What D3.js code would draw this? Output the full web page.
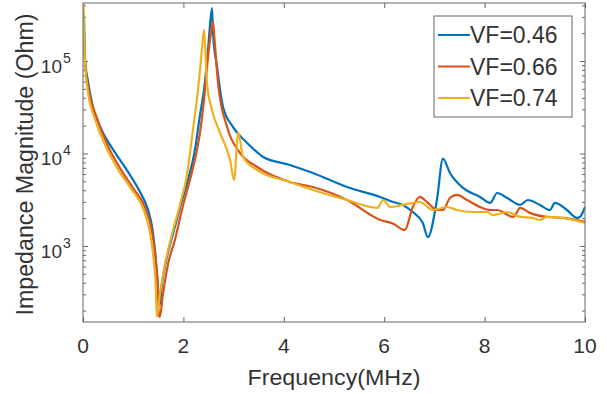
<!DOCTYPE html>
<html>
<head>
<meta charset="utf-8">
<script src="https://cdn.jsdelivr.net/npm/d3@7"></script>
<style>
  body { margin: 0; background: #fff; }
  text { font-family: Arial, "Liberation Sans", sans-serif; fill: #333; }
</style>
</head>
<body>
<svg id="mainsvg"></svg>
<script>
// frequency (MHz) / impedance magnitude (Ohm)
const f046 = [0.02,0.04,0.10,0.20,0.36,0.64,0.90,1.14,1.29,1.39,1.45,1.49,1.53,1.57,1.65,1.77,1.93,2.09,2.23,2.33,2.41,2.49,2.53,2.57,2.59,2.67,2.79,2.99,3.27,3.59,4.12,4.58,5.26,5.92,6.18,6.37,6.57,6.77,6.87,7.05,7.17,7.31,7.57,7.91,8.11,8.25,8.45,8.71,8.86,9.10,9.30,9.40,9.64,9.84,9.90,10.0];
const z046 = [314000,105000,60000,31500,18500,10200,6300,3800,2500,1450,720,378,230,378,672,1220,2580,5170,10900,26100,48600,131600,245000,373900,200800,86100,31800,19300,13000,9170,7520,6150,4340,3390,2990,2780,2330,1770,1250,3140,8800,6150,4240,3390,2920,3740,3300,2780,3140,2780,2450,2920,2450,2010,2060,2640];

const f066 = [0.01,0.02,0.04,0.12,0.28,0.48,0.74,1.00,1.24,1.37,1.45,1.49,1.51,1.53,1.59,1.69,1.83,1.97,2.13,2.25,2.33,2.41,2.47,2.53,2.59,2.61,2.69,2.87,3.13,3.47,4.12,4.58,5.26,5.92,6.18,6.41,6.57,6.71,6.85,7.05,7.17,7.31,7.45,7.65,7.91,8.11,8.25,8.57,8.71,8.90,9.24,9.56,9.84,10.0];
const z066 = [330000,168700,100000,47000,24000,12600,6900,4200,2560,1460,700,360,180,171,295,624,1160,2450,5170,9640,16700,37800,86100,168700,264000,200800,57800,19300,10100,7140,4920,4340,3140,1910,1740,1490,2640,3390,2990,2450,2450,3300,3560,3140,2640,2450,2450,2060,2580,2280,2060,2010,1910,1820];

const f074 = [0.01,0.02,0.04,0.10,0.24,0.44,0.70,0.96,1.20,1.33,1.41,1.45,1.47,1.53,1.63,1.77,1.93,2.07,2.19,2.29,2.35,2.41,2.43,2.47,2.57,2.73,2.93,3.01,3.09,3.19,3.47,4.12,4.58,5.26,5.86,5.98,6.12,6.37,6.71,6.97,7.25,7.45,7.77,8.05,8.17,8.45,8.71,8.96,9.10,9.24,9.56,10.0];
const z074 = [423600,200800,98000,46000,23500,12300,6700,4150,2520,1440,690,360,171,295,624,1320,2780,5860,17900,48600,102600,216300,156600,57800,29500,16700,8500,5170,16700,9170,6630,4920,4030,3140,2580,3140,2640,2780,2990,2450,2640,2450,2330,2330,2160,2330,2060,2010,1910,2060,2010,1770];

const seriesNames = ["VF=0.46", "VF=0.66", "VF=0.74"];
const seriesColors = ["#0072BD", "#D95319", "#EDB120"];
const xTicks = [0, 2, 4, 6, 8, 10];
const yTicks = [1e3, 1e4, 1e5];

let mainsvg = d3.select("#mainsvg"),
    svgWidth = 607,
    svgHeight = 394,
    plot = {left: 83, right: 585, top: 3, bottom: 322},
    scaleX = d3.scaleLinear().domain([0, 10]).range([plot.left, plot.right]),
    scaleY = d3.scaleLog().domain([150.6, 424000]).range([plot.bottom, plot.top]);

mainsvg.attr("width", svgWidth).attr("height", svgHeight);

let series = [[f046, z046], [f066, z066], [f074, z074]].map((s, i) => ({
    name: seriesNames[i],
    color: seriesColors[i],
    values: s[0].map((f, j) => ({f: f, z: s[1][j]}))
}));

mainsvg.append("defs").append("clipPath").attr("id", "clip")
    .append("rect")
    .attr("x", plot.left).attr("y", plot.top)
    .attr("width", plot.right - plot.left).attr("height", plot.bottom - plot.top);

// axes box with inward ticks
let axisColor = "#666";
let minorY = [];
[100, 1000, 10000, 100000].forEach(d => {
    for (let k = 2; k <= 9; k++) {
        let v = d * k;
        if (v > 150.6 && v < 424000) minorY.push(v);
    }
});

function styleAxis(g) {
    g.select(".domain").remove();
    g.selectAll("line").attr("stroke", axisColor);
    g.selectAll("text").remove();
}

mainsvg.append("g").attr("transform", `translate(0,${plot.bottom})`)
    .call(d3.axisBottom(scaleX).tickValues(xTicks).tickSize(-5)).call(styleAxis);
mainsvg.append("g").attr("transform", `translate(0,${plot.top})`)
    .call(d3.axisTop(scaleX).tickValues(xTicks).tickSize(-5)).call(styleAxis);
mainsvg.append("g").attr("transform", `translate(${plot.left},0)`)
    .call(d3.axisLeft(scaleY).tickValues(yTicks).tickSize(-5)).call(styleAxis);
mainsvg.append("g").attr("transform", `translate(${plot.right},0)`)
    .call(d3.axisRight(scaleY).tickValues(yTicks).tickSize(-5)).call(styleAxis);
mainsvg.append("g").attr("transform", `translate(${plot.left},0)`)
    .call(d3.axisLeft(scaleY).tickValues(minorY).tickSize(-3)).call(styleAxis);
mainsvg.append("g").attr("transform", `translate(${plot.right},0)`)
    .call(d3.axisRight(scaleY).tickValues(minorY).tickSize(-3)).call(styleAxis);

// curves
let line = d3.line()
    .x(d => scaleX(d.f))
    .y(d => scaleY(d.z))
    .curve(d3.curveMonotoneX);

mainsvg.append("g").attr("clip-path", "url(#clip)")
    .selectAll("path").data(series).enter().append("path")
    .attr("d", d => line(d.values))
    .attr("fill", "none")
    .attr("stroke", d => d.color)
    .attr("stroke-width", 2.2)
    .attr("stroke-linejoin", "round");

mainsvg.append("rect")
    .attr("x", plot.left).attr("y", plot.top)
    .attr("width", plot.right - plot.left).attr("height", plot.bottom - plot.top)
    .attr("fill", "none").attr("stroke", axisColor).attr("stroke-width", 1);

// tick labels
mainsvg.append("g").selectAll("text").data(xTicks).enter().append("text")
    .attr("x", d => scaleX(d))
    .attr("y", 353)
    .attr("text-anchor", "middle")
    .attr("font-size", 21)
    .text(d => d);

let yLab = mainsvg.append("g").selectAll("g").data(yTicks).enter().append("g")
    .attr("transform", d => `translate(62,${scaleY(d)})`);
yLab.append("text")
    .attr("y", 12)
    .attr("text-anchor", "end")
    .attr("font-size", 19)
    .text("10");
yLab.append("text")
    .attr("x", 1)
    .attr("y", 2)
    .attr("font-size", 14)
    .text(d => Math.round(Math.log10(d)));

// axis titles
mainsvg.append("text")
    .attr("x", (plot.left + plot.right) / 2)
    .attr("y", 385)
    .attr("text-anchor", "middle")
    .attr("font-size", 22)
    .attr("textLength", 173)
    .attr("lengthAdjust", "spacingAndGlyphs")
    .text("Frequency(MHz)");

mainsvg.append("text")
    .attr("transform", `translate(33,${(plot.top + plot.bottom) / 2 + 2}) rotate(-90)`)
    .attr("text-anchor", "middle")
    .attr("font-size", 23)
    .attr("textLength", 302)
    .attr("lengthAdjust", "spacingAndGlyphs")
    .text("Impedance Magnitude (Ohm)");

// legend
let legend = mainsvg.append("g").attr("transform", "translate(434,16)");
legend.append("rect")
    .attr("width", 138).attr("height", 101)
    .attr("fill", "#fff").attr("stroke", axisColor).attr("stroke-width", 1);
let item = legend.selectAll("g.item").data(series).enter().append("g")
    .attr("class", "item")
    .attr("transform", (d, i) => `translate(0,${19 + i * 31.5})`);
item.append("line")
    .attr("x1", 4).attr("x2", 36)
    .attr("stroke", d => d.color).attr("stroke-width", 2);
item.append("text")
    .attr("x", 36).attr("y", 8)
    .attr("font-size", 23)
    .text(d => d.name);
</script>
</body>
</html>
